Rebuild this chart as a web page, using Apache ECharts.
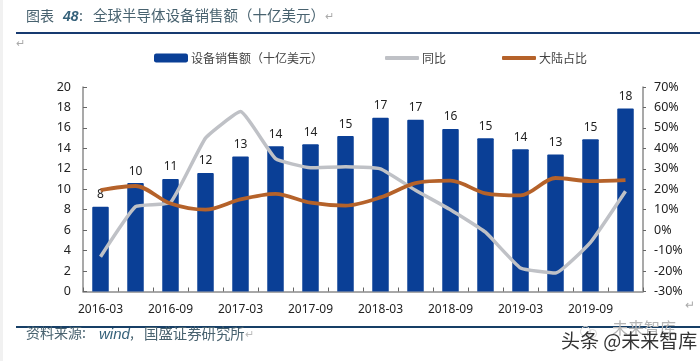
<!DOCTYPE html>
<html><head><meta charset="utf-8">
<style>html,body{margin:0;padding:0;background:#fff}#c{width:700px;height:361px}</style>
<script src="https://cdn.jsdelivr.net/npm/echarts@6/dist/echarts.min.js"></script>
</head><body><div id="c"></div>
<script>
const categories=['2016-03','2016-06','2016-09','2016-12','2017-03','2017-06','2017-09','2017-12','2018-03','2018-06','2018-09','2018-12','2019-03','2019-06','2019-09','2019-12'];
const sales=[8.3,10.6,11,11.6,13.2,14.2,14.4,15.2,17,16.8,15.9,15,13.9,13.4,14.9,17.9];
const salesLabels=[8,10,11,12,13,14,14,15,17,17,16,15,14,13,15,18];
const yoy=[-13,11.5,13.5,45,58,35,30.5,31,30,19.5,10,-1,-18.5,-21,-6,19];
const share=[19.6,21.6,13,10,15,17.7,13.4,12,16,23,24.2,18,17,25.5,24,24.5];
const seriesNames=['设备销售额（十亿美元）','同比','大陆占比'];
const FONT='"Noto Sans"', CJK='"Noto Sans CJK SC"', TICK='#222', AX='#8c8c8c', INK='#48626f';
const legendBase={top:52,itemWidth:34,padding:0,selectedMode:false,itemGap:0,
  textStyle:{fontFamily:CJK,fontSize:12,color:'#444',padding:[0,0,0,-2]}};
const chart=echarts.init(document.getElementById('c'),null,{renderer:'canvas'});
chart.setOption({
 animation:false,backgroundColor:'#fff',
 grid:{left:83,right:57,top:87,bottom:69.5,containLabel:false},
 legend:[
  Object.assign({},legendBase,{left:154,itemHeight:9,data:[{name:seriesNames[0],icon:'roundRect'}]}),
  Object.assign({},legendBase,{left:385,itemHeight:4,data:[{name:seriesNames[1],icon:'roundRect'}]}),
  Object.assign({},legendBase,{left:502,itemHeight:4,data:[{name:seriesNames[2],icon:'roundRect'}]})
 ],
 xAxis:{type:'category',data:categories,
  axisLine:{lineStyle:{color:AX,width:1.5}},
  axisTick:{show:true,inside:true,interval:0,length:4,alignWithLabel:false,lineStyle:{color:'#666'}},
  axisLabel:{interval:1,fontFamily:FONT,fontSize:12,color:TICK,margin:12}},
 yAxis:[{type:'value',min:0,max:20,interval:2,splitLine:{show:false},
   axisLine:{show:true,lineStyle:{color:AX,width:1.5}},
   axisTick:{show:true,inside:true,length:4,lineStyle:{color:'#666'}},
   axisLabel:{fontFamily:FONT,fontSize:12.5,color:TICK,margin:12}},
  {type:'value',min:-30,max:70,interval:10,position:'right',splitLine:{show:false},
   axisLine:{show:true,lineStyle:{color:AX,width:1.5}},
   axisTick:{show:true,inside:false,length:3,lineStyle:{color:'#666'}},
   axisLabel:{fontFamily:FONT,fontSize:12.5,color:TICK,margin:11,formatter:'{value}%'}}],
 series:[
  {name:seriesNames[0],type:'bar',data:sales,barWidth:16.5,
   itemStyle:{color:'#0a3f96',borderRadius:[1,1,0,0]},
   label:{show:true,position:'top',distance:6,fontFamily:FONT,fontSize:12,color:TICK,
     formatter:p=>salesLabels[p.dataIndex]}},
  {name:seriesNames[1],type:'line',yAxisIndex:1,data:yoy,smooth:0.12,symbol:'none',showSymbol:false,
   itemStyle:{color:'#bfc1c6'},lineStyle:{color:'#bfc1c6',width:3.5}},
  {name:seriesNames[2],type:'line',yAxisIndex:1,data:share,smooth:0.3,symbol:'none',showSymbol:false,
   itemStyle:{color:'#b5622a'},lineStyle:{color:'#b5622a',width:3.8}}
 ],
 graphic:[
  {type:'rect',left:0,top:0,shape:{width:3,height:361},style:{fill:'#f1f1f1'}},
  {type:'text',left:26,top:9,style:{text:'图表',fontFamily:CJK,fontSize:14,fill:INK}},
  {type:'text',left:63,top:10,style:{text:'48',fontFamily:'"Liberation Sans"',fontStyle:'italic',fontWeight:'bold',fontSize:14,fill:'#35617a'}},
  {type:'text',left:79,top:9,style:{text:':',fontFamily:CJK,fontSize:14,fill:INK}},
  {type:'text',left:93,top:8,style:{text:'全球半导体设备销售额（十亿美元）',fontFamily:CJK,fontSize:14.5,fill:INK}},
  {type:'text',left:325,top:11,style:{text:'↵',fontFamily:FONT,fontSize:11,fill:'#aaa'}},
  {type:'text',left:16,top:38,style:{text:'↵',fontFamily:FONT,fontSize:11,fill:'#aaa'}},
  {type:'text',left:685,top:300,style:{text:'↵',fontFamily:FONT,fontSize:12,fill:'#aaa'}},
  {type:'rect',left:16,top:32,shape:{width:684,height:2},style:{fill:'#173a70'}},
  {type:'rect',left:16,top:326,shape:{width:684,height:2},style:{fill:'#173f66'}},
  {type:'text',left:26,top:326,style:{text:'资料来源:',fontFamily:CJK,fontSize:14,fill:INK}},
  {type:'text',left:99,top:327,style:{text:'wind',fontFamily:'"Liberation Sans"',fontStyle:'italic',fontSize:15,fill:'#35617a'}},
  {type:'text',left:130,top:326,style:{text:',',fontFamily:CJK,fontSize:14,fill:INK}},
  {type:'text',left:144,top:326,style:{text:'国盛证券研究所',fontFamily:CJK,fontSize:14.4,fill:INK}},
  {type:'text',left:245,top:329,style:{text:'↵',fontFamily:FONT,fontSize:11,fill:'#bbb'}},
  {type:'circle',left:578,top:324,shape:{r:5},style:{fill:'none',stroke:'#d8d8d8',lineWidth:1}},
  {type:'circle',left:586,top:327,shape:{r:4},style:{fill:'none',stroke:'#d8d8d8',lineWidth:1}},
  {type:'text',left:612,top:320,style:{text:'未来智库',fontFamily:CJK,fontSize:16,fill:'#b5b5b5'}},
  {type:'text',left:561,top:331,style:{text:'头条 @未来智库',fontFamily:CJK,fontSize:19,fill:'#333'}}
 ]
});
</script></body></html>
